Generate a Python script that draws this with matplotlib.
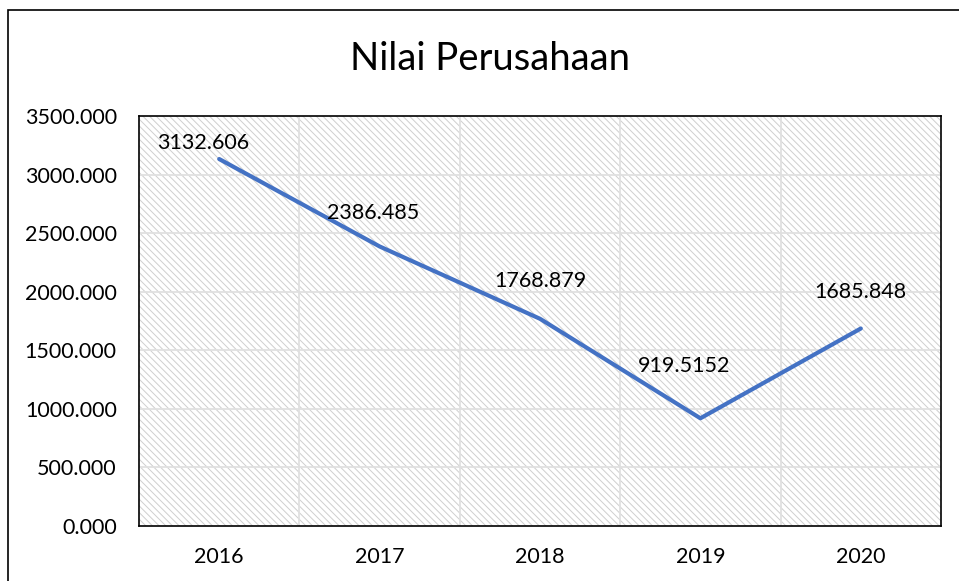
import matplotlib.pyplot as plt
from matplotlib.patches import Rectangle

# data
years = ['2016', '2017', '2018', '2019', '2020']
nilai = [3132.606, 2386.485, 1768.879, 919.5152, 1685.848]
labels = ['3132.606', '2386.485', '1768.879', '919.5152', '1685.848']
yticks = [0, 500, 1000, 1500, 2000, 2500, 3000, 3500]

# label offsets (points) relative to each point, label centred
offsets = [(-11.5, 11.5), (-5, 24), (0.5, 27.5), (-11.5, 38), (0, 26.5)]

plt.rcParams['font.family'] = ['Lato', 'DejaVu Sans']
plt.rcParams['hatch.color'] = '#cfcfcf'
plt.rcParams['hatch.linewidth'] = 0.7

fig = plt.figure(figsize=(9.59, 5.81), dpi=100)
ax = fig.add_axes([139/959, 55/581, 802/959, 410/581])

# outer chart border (right/bottom run off the picture)
fig.patches.append(Rectangle((8/959, -0.1), 1.2, 1 - 10/581 + 0.1,
                             transform=fig.transFigure, fill=False,
                             edgecolor='black', linewidth=1.2))

x = range(len(years))
ax.set_xlim(-0.5, len(years) - 0.5)
ax.set_ylim(0, 3500)

# hatched plot area
ax.add_patch(Rectangle((0, 0), 1, 1, transform=ax.transAxes, facecolor='white',
                       hatch='\\\\\\\\\\', edgecolor='#cfcfcf', linewidth=0, zorder=0))

# gridlines between categories and at y ticks
for b in [i + 0.5 for i in range(len(years) - 1)]:
    ax.axvline(b, color='#e0e0e0', linewidth=1.3, zorder=1)
for t in yticks[1:-1]:
    ax.axhline(t, color='#e0e0e0', linewidth=1.3, zorder=1)

ax.plot(x, nilai, color='#4472C4', linewidth=3.0, solid_capstyle='round', zorder=3)

for xi, v, lab, off in zip(x, nilai, labels, offsets):
    ax.annotate(lab, (xi, v), xytext=off, textcoords='offset points',
                ha='center', va='center', fontsize=15.5, color='black', zorder=4)

ax.set_xticks(list(x))
ax.set_xticklabels(years, fontsize=15.5)
ax.set_yticks(yticks)
ax.set_yticklabels(['%.3f' % t for t in yticks], fontsize=15.5)
ax.tick_params(length=0)
ax.tick_params(axis='x', pad=15)
ax.tick_params(axis='y', pad=16)
for s in ax.spines.values():
    s.set_linewidth(1.2)
    s.set_color('black')
    s.set_zorder(5)

fig.text(490/959, 1 - 59/581, 'Nilai Perusahaan', ha='center', va='center', fontsize=27.5)

plt.savefig('out.png', dpi=100)
